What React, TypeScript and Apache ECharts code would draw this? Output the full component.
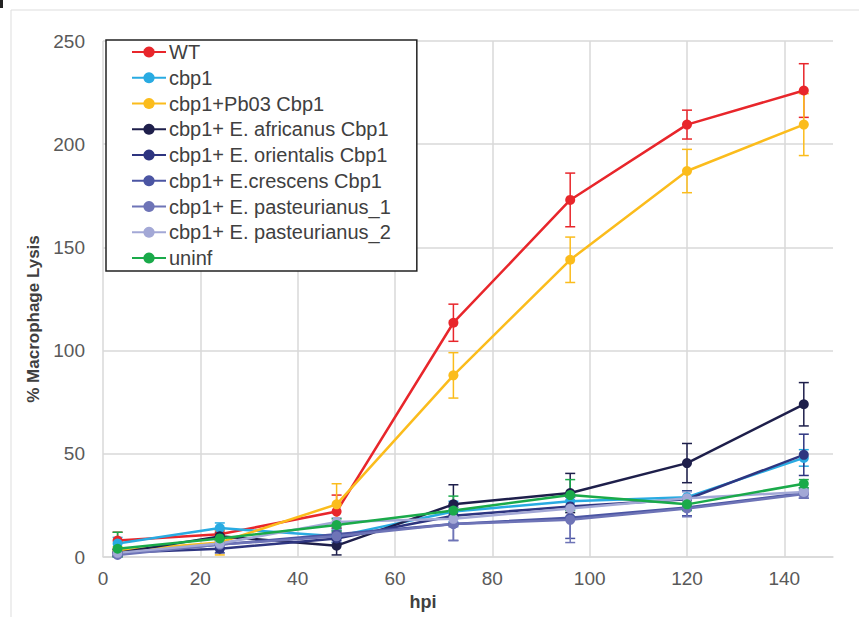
import React, { useEffect, useRef } from "react";
import * as echarts from "echarts";

const hours = [3, 24, 48, 72, 96, 120, 144];
const seriesNames = [
  "WT",
  "cbp1",
  "cbp1+Pb03 Cbp1",
  "cbp1+ E. africanus Cbp1",
  "cbp1+ E. orientalis Cbp1",
  "cbp1+ E.crescens Cbp1",
  "cbp1+ E. pasteurianus_1",
  "cbp1+ E. pasteurianus_2",
  "uninf",
];
const seriesColors = [
  "#e8262b",
  "#29abe2",
  "#fbbc1c",
  "#1e1f4b",
  "#2e3580",
  "#4b55a3",
  "#6e74b7",
  "#a3a8d6",
  "#1aaa4a",
];
const wtVals = [8, 11, 22, 113.5, 173, 209.5, 226];
const wtErr = [4, 2, 8, 9, 13, 7, 13];
const cbp1Vals = [6.5, 14, 10, 22, 27, 29, 48];
const cbp1Err = [3, 2.5, 3, 5, 4, 3, 4];
const pb03Vals = [3, 7, 25.5, 88, 144, 187, 209.5];
const pb03Err = [2, 6, 10, 11, 11, 10.5, 15];
const africanusVals = [2, 10, 5.5, 25.5, 31, 45.5, 74];
const africanusErr = [1.5, 2, 4.5, 9.5, 9.5, 9.5, 10.5];
const orientalisVals = [2, 4, 9, 20, 24.5, 28, 49.5];
const orientalisErr = [1.5, 2, 3, 5, 5, 4, 10];
const crescensVals = [1.5, 6, 11, 16, 19, 24, 31];
const crescensErr = [1, 2, 3, 8, 10, 4, 2.5];
const past1Vals = [1, 6, 10, 16, 18, 23.5, 30.5];
const past1Err = [1, 2, 3, 8, 11, 4, 2];
const past2Vals = [2, 6.5, 17, 18.5, 23.5, 28.5, 31.5];
const past2Err = [1, 2, 2, 4, 4, 3, 2];
const uninfVals = [4, 9, 15.5, 22.5, 30, 25.5, 35.5];
const uninfErr = [8, 2, 3, 7, 7.5, 3, 2];

const allVals = [wtVals, cbp1Vals, pb03Vals, africanusVals, orientalisVals, crescensVals, past1Vals, past2Vals, uninfVals];
const allErr = [wtErr, cbp1Err, pb03Err, africanusErr, orientalisErr, crescensErr, past1Err, past2Err, uninfErr];

const yTicks = { min: 0, max: 250, interval: 50 };
const xTicks = { min: 0, max: 150, interval: 20 };

export default function App() {
  const ref = useRef<HTMLDivElement>(null);
  useEffect(() => {
    if (!ref.current) return;
    const chart = echarts.init(ref.current, null, { renderer: "svg" });
    const font = "'Liberation Sans', Arial, sans-serif";

    const errSeries = allVals.map((vals, si) => ({
      type: "custom",
      name: seriesNames[si] + " err",
      z: 1,
      silent: true,
      data: hours.map((h, i) => [h, Math.max(0, vals[i] - allErr[si][i]), vals[i] + allErr[si][i]]),
      encode: { x: 0, y: [1, 2] },
      renderItem: (params: any, api: any) => {
        const x = api.value(0);
        const lo = api.value(1);
        const hi = api.value(2);
        const p1 = api.coord([x, hi]);
        const p2 = api.coord([x, lo]);
        const w = 5;
        const style = { stroke: seriesColors[si], lineWidth: 1.5, fill: "none" };
        return {
          type: "group",
          children: [
            { type: "line", shape: { x1: p1[0], y1: p1[1], x2: p2[0], y2: p2[1] }, style },
            { type: "line", shape: { x1: p1[0] - w, y1: p1[1], x2: p1[0] + w, y2: p1[1] }, style },
            { type: "line", shape: { x1: p2[0] - w, y1: p2[1], x2: p2[0] + w, y2: p2[1] }, style },
          ],
        };
      },
    }));

    const lineSeries = allVals.map((vals, si) => ({
      type: "line",
      name: seriesNames[si],
      z: 2,
      data: hours.map((h, i) => [h, vals[i]]),
      symbol: "circle",
      symbolSize: 10,
      lineStyle: { color: seriesColors[si], width: 2.5 },
      itemStyle: { color: seriesColors[si] },
    }));

    chart.setOption({
      animation: false,
      backgroundColor: "#ffffff",
      textStyle: { fontFamily: font },
      grid: { left: 103, right: 26, top: 41, bottom: 60, containLabel: false },
      legend: {
        data: seriesNames,
        orient: "vertical",
        left: 106,
        top: 40,
        padding: [2, 26, 3, 25],
        itemWidth: 34,
        itemHeight: 14,
        itemGap: 5.75,
        borderColor: "#222222",
        borderWidth: 1.5,
        backgroundColor: "#ffffff",
        textStyle: { fontSize: 20, lineHeight: 20, color: "#404040", fontFamily: font, padding: [0, 0, 0, -2] },
      },
      xAxis: {
        type: "value",
        min: xTicks.min,
        max: xTicks.max,
        interval: xTicks.interval,
        name: "hpi",
        nameLocation: "middle",
        nameGap: 32,
        nameTextStyle: { fontSize: 18, fontWeight: "bold", color: "#404040", padding: [0, 90, 0, 0] },
        axisLine: { show: true, lineStyle: { color: "#d9d9d9", width: 1.5 } },
        axisTick: { show: false },
        axisLabel: { fontSize: 19, color: "#595959", margin: 12, showMaxLabel: false },
        splitLine: { show: true, showMaxLine: false, lineStyle: { color: "#d9d9d9", width: 1.5 } },
      },
      yAxis: {
        type: "value",
        min: yTicks.min,
        max: yTicks.max,
        interval: yTicks.interval,
        name: "% Macrophage Lysis",
        nameLocation: "middle",
        nameGap: 59,
        nameTextStyle: { fontSize: 17, fontWeight: "bold", color: "#404040", padding: [0, 40, 0, 0] },
        axisLine: { show: false },
        axisTick: { show: false },
        axisLabel: { fontSize: 19, color: "#595959", margin: 18 },
        splitLine: { show: true, lineStyle: { color: "#d9d9d9", width: 1.5 } },
      },
      graphic: [
        {
          type: "rect",
          shape: { x: 11, y: 10, width: 900, height: 700 },
          style: { fill: "none", stroke: "#dddddd", lineWidth: 1 },
          silent: true,
          z: -1,
        },
        {
          type: "rect",
          shape: { x: 0, y: 0, width: 3, height: 8 },
          style: { fill: "#222222" },
          silent: true,
        },
      ],
      series: [...errSeries, ...lineSeries],
    });
    return () => chart.dispose();
  }, []);
  return <div ref={ref} style={{ position: "fixed", left: 0, top: 0, width: 859, height: 617 }} />;
}
